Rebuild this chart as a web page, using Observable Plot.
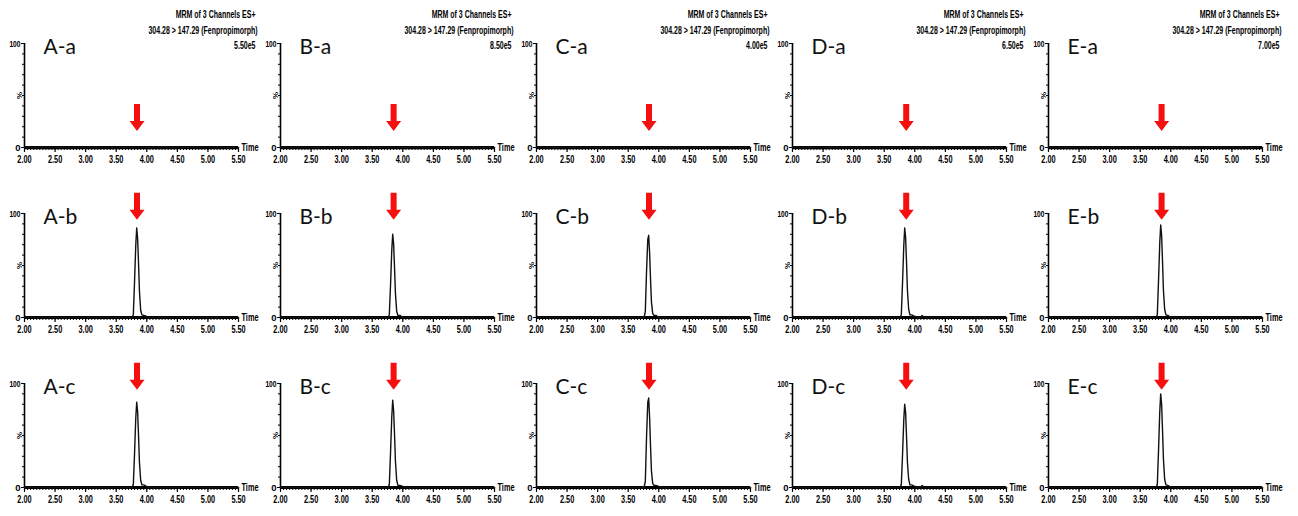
<!DOCTYPE html>
<html>
<head>
<meta charset="utf-8">
<script src="https://cdn.jsdelivr.net/npm/d3@7"></script>
<script src="https://cdn.jsdelivr.net/npm/@observablehq/plot@0.6"></script>
<style>
  body { margin: 0; background: #ffffff; }
  #chart svg { display: block; }
</style>
</head>
<body>
<div id="chart"></div>
<script>
// ---------- data ----------
const columns = ["A", "B", "C", "D", "E"];
const rows = ["a", "b", "c"];
const intensityScales = ["5.50e5", "8.50e5", "4.00e5", "6.50e5", "7.00e5"];
const headerLine1 = "MRM of 3 Channels ES+";
const headerLine2 = "304.28 > 147.29 (Fenpropimorph)";
const timeTicks = [2.00, 2.50, 3.00, 3.50, 4.00, 4.50, 5.00, 5.50];
const timeTickLabels = ["2.00", "2.50", "3.00", "3.50", "4.00", "4.50", "5.00", "5.50"];
const yTicks = [0, 100];
const yTickLabels = ["0", "100"];
const xAxisLabel = "Time";
const yAxisLabel = "%";

// arrow (retention time marker) per column, tip intensity per row
const arrowTimes = [3.84, 3.85, 3.84, 3.86, 3.85];
const arrowTips = [16, 94, 94];

// blank traces (row a)
const blankTimes = [2.00, 5.50];
const blankValues = [0, 0];

// spiked traces (rows b and c)
const peakTimes = [2.00, 3.76, 3.78, 3.80, 3.82, 3.835, 3.85, 3.865, 3.88, 3.90, 3.92, 3.95, 3.98, 4.01, 4.05, 4.10, 4.12, 4.14, 5.50];
const traceAb = [0, 0, 3, 35, 70, 86, 76, 52, 25, 7, 2.5, 2, 1.5, 0.5, 0, 0, 0, 0, 0];
const traceBb = [0, 0, 3, 32, 65, 80, 71, 48, 23, 6, 2, 2, 1, 0.5, 0, 0, 0, 0, 0];
const traceCb = [0, 0, 6, 45, 75, 79, 62, 37, 15, 4, 2, 2, 1, 0.5, 0, 0, 0, 0, 0];
const traceDb = [0, 0, 3, 34, 69, 86, 77, 53, 26, 8, 2.5, 2.5, 1.5, 1, 0, 0.5, 2, 0.5, 0];
const traceEb = [0, 0, 3, 36, 72, 89, 79, 54, 26, 8, 2.5, 2, 1, 0.5, 0, 0, 0, 0, 0];
const traceAc = [0, 0, 3, 33, 67, 82, 73, 50, 24, 7, 2.5, 2.5, 1.5, 0.5, 0, 0, 0, 0, 0];
const traceBc = [0, 0, 3, 34, 68, 84, 74, 51, 25, 7, 2, 2, 1.5, 0.5, 0, 0, 0, 0, 0];
const traceCc = [0, 0, 6, 49, 82, 86, 67, 40, 16, 4, 2, 2, 1.5, 0.5, 0, 0, 0, 0, 0];
const traceDc = [0, 0, 3, 32, 65, 80, 72, 49, 24, 8, 2.5, 2.5, 1.5, 1, 0, 0.5, 2, 0.5, 0];
const traceEc = [0, 0, 3, 36, 73, 90, 80, 55, 27, 8, 2.5, 2, 1, 0.5, 0, 0, 0, 0, 0];

// ---------- tables built from the arrays ----------
const spiked = {
  b: [traceAb, traceBb, traceCb, traceDb, traceEb],
  c: [traceAc, traceBc, traceCc, traceDc, traceEc]
};
const traces = [];
const panelLabels = [];
const arrows = [];
rows.forEach((r, ri) => {
  columns.forEach((c, ci) => {
    const times = r === "a" ? blankTimes : peakTimes;
    const values = r === "a" ? blankValues : spiked[r][ci];
    times.forEach((t, k) => traces.push({fx: c, fy: r, id: c + "-" + r, t, v: values[k]}));
    panelLabels.push({fx: c, fy: r, label: c + "-" + r});
    arrows.push({fx: c, fy: r, t: arrowTimes[ci], v: arrowTips[ri]});
  });
});
const headers = columns.map((c, ci) => ({fx: c, fy: "a", scale: intensityScales[ci]}));

// filled arrow glyph, tip at the anchor point
const arrowSymbol = {
  draw(context) {
    context.moveTo(0, 0);
    context.lineTo(-7.5, -10);
    context.lineTo(-3, -10);
    context.lineTo(-3, -27);
    context.lineTo(3, -27);
    context.lineTo(3, -10);
    context.lineTo(7.5, -10);
    context.closePath();
  }
};

const small = "'Liberation Sans', Arial, sans-serif";

const chart = Plot.plot({
  width: 1298,
  height: 516,
  marginLeft: 24,
  marginRight: 36,
  marginTop: 43,
  marginBottom: 29,
  style: {fontFamily: small, background: "#ffffff", color: "#000"},
  fx: {domain: columns, axis: null, paddingInner: 0.164, paddingOuter: 0, round: false},
  fy: {domain: rows, axis: null, paddingInner: 0.388, paddingOuter: 0, round: false},
  x: {domain: [2, 5.5]},
  y: {domain: [0, 100]},
  marks: [
    // minor time ticks
    Plot.axisX({anchor: "bottom", ticks: 70, tickSize: 3, tickFormat: () => "", label: null, facetAnchor: null, strokeWidth: 1}),
    // major time ticks and labels
    Plot.axisX({
      anchor: "bottom", ticks: timeTicks, tickSize: 5, tickPadding: 3,
      tickFormat: d => timeTickLabels[timeTicks.indexOf(d)],
      label: null, facetAnchor: null, fontSize: 10.5, fontWeight: "bold", strokeWidth: 1.2
    }),
    // minor intensity ticks
    Plot.axisY({anchor: "left", ticks: 10, tickSize: 2, tickFormat: () => "", label: null, facetAnchor: null}),
    // 0 and 100 labels
    Plot.axisY({
      anchor: "left", ticks: yTicks, tickSize: 3, tickPadding: 1,
      tickFormat: d => yTickLabels[yTicks.indexOf(d)],
      label: null, facetAnchor: null, fontSize: 9.5, fontWeight: "bold"
    }),
    Plot.ruleX([2], {y1: 0, y2: 100, strokeWidth: 1.6}),
    Plot.ruleY([0], {strokeWidth: 3.2}),
    Plot.text([yAxisLabel], {x: 2, y: 50, dx: -5, rotate: -90, fontSize: 8, fontWeight: "bold"}),
    Plot.text([xAxisLabel], {x: 5.5, y: 0, dx: 3, textAnchor: "start", fontSize: 10.5, fontWeight: "bold"}),
    // chromatogram traces
    Plot.line(traces, {x: "t", y: "v", z: "id", fx: "fx", fy: "fy", stroke: "#111", strokeWidth: 1.4, curve: "linear"}),
    // red retention-time arrows
    Plot.dot(arrows, {x: "t", y: "v", fx: "fx", fy: "fy", symbol: arrowSymbol, fill: "#f50f0f", stroke: null}),
    // panel labels
    Plot.text(panelLabels, {
      x: 2, y: 100, fx: "fx", fy: "fy", text: "label", dx: 19, dy: 4,
      textAnchor: "start", fontSize: 21, fontFamily: "Lato, 'Open Sans', sans-serif", fill: "#111"
    }),
    // instrument header (top row)
    Plot.text(headers, {x: 5.5, y: 100, fx: "fx", fy: "fy", text: () => headerLine1, dx: 17, dy: -29, textAnchor: "end", fontSize: 10, fontWeight: "bold"}),
    Plot.text(headers, {x: 5.5, y: 100, fx: "fx", fy: "fy", text: () => headerLine2, dx: 19, dy: -13, textAnchor: "end", fontSize: 10, fontWeight: "bold"}),
    Plot.text(headers, {x: 5.5, y: 100, fx: "fx", fy: "fy", text: "scale", dx: 17, dy: 2, textAnchor: "end", fontSize: 10, fontWeight: "bold"})
  ]
});
document.getElementById("chart").appendChild(chart);

// condense the small instrument-style labels horizontally (no narrow face installed)
d3.select(chart).selectAll("text").each(function () {
  const size = parseFloat(getComputedStyle(this).fontSize);
  if (size > 11 || this.textContent.length < 2) return;
  const k = 0.7;
  const xa = this.getAttribute("x");
  let t = this.getAttribute("transform") || "";
  if (xa != null && /^\s*-?[\d.]+(px|em)?\s*$/.test(xa)) {
    const xn = /em/.test(xa) ? parseFloat(xa) * size : parseFloat(xa);
    t += ` translate(${xn},0)`;
    this.removeAttribute("x");
  }
  this.setAttribute("transform", `${t} scale(${k},1)`.trim());
});
</script>
</body>
</html>
